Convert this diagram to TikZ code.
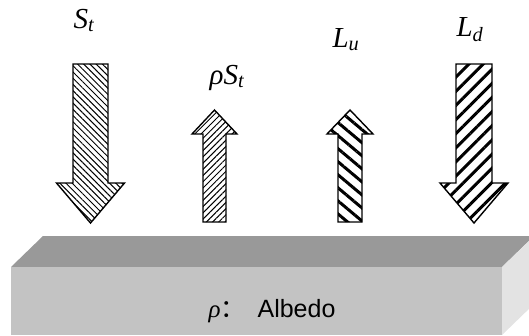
\documentclass[tikz,border=0pt]{standalone}
\usepackage{fontspec}
\setmainfont{Liberation Serif}
\newfontfamily\albedofont{Liberation Sans}
\newfontfamily\cjkfont{Noto Sans CJK SC}
\usetikzlibrary{patterns.meta}
\definecolor{slabtop}{HTML}{999999}
\definecolor{slabfront}{HTML}{C3C3C3}
\definecolor{slabside}{HTML}{E3E3E3}
\tikzset{
  fluxarrow/.style={draw=black, line width=1.4pt, line join=miter},
  finehatch/.style={pattern={Lines[angle=#1, distance=4.4pt, line width=1pt]}},
  coarsehatch/.style={pattern={Lines[angle=#1, distance=10pt, line width=3pt]}},
  fluxlabel/.style={font=\itshape\fontsize{29}{34}\selectfont, inner sep=0pt, anchor=base},
  slabtext/.style={font=\albedofont\fontsize{25}{29}\selectfont, inner sep=0pt, anchor=base},
}
% #1 name, #2 centre x, #3 tail y, #4 head base y, #5 tip y, #6 half shaft, #7 half head, #8 pattern
\newcommand{\fluxshape}[8]{%
  \draw[fluxarrow, #8] (#2-#6,#3) -- (#2+#6,#3) -- (#2+#6,#4) -- (#2+#7,#4)
    -- (#2,#5) -- (#2-#7,#4) -- (#2-#6,#4) -- cycle;
  \coordinate (#1) at (#2,#3);}

\begin{document}
\begin{tikzpicture}[x=1pt, y=-1pt]
  \useasboundingbox (0,0) rectangle (529,335);
  \clip (0,0) rectangle (529,335);

  %% ---- surface slab ----
  \fill[slabtop]   (11,267) -- (43,236) -- (534,236) -- (502,267) -- cycle;
  \fill[slabside]  (502,267) -- (534,236) -- (534,304) -- (502,335) -- cycle;
  \fill[slabfront] (11,267) rectangle (502,335);
  \node[slabtext] (albedo) at (272,317)
    {{\rmfamily\itshape ρ}{\cjkfont ：}\hspace{12pt}Albedo};

  %% ---- fluxes ----
  \fluxshape{st}{90.5}{64}{183}{223}{17.5}{34}{finehatch=-45}
  \fluxshape{rst}{214.5}{222}{134}{110}{11.5}{22.5}{finehatch=45}
  \fluxshape{lu}{350}{222}{134}{110}{12}{23}{coarsehatch=-40}
  \fluxshape{ld}{474}{64}{183}{223}{18}{34}{coarsehatch=45}

  %% ---- labels ----
  \node[fluxlabel] (lblst)  at (84,28)  {S\textsubscript{t}};
  \node[fluxlabel] (lblrst) at (227,84) {ρS\textsubscript{t}};
  \node[fluxlabel] (lbllu)  at (346,47) {L\textsubscript{u}};
  \node[fluxlabel] (lblld)  at (470,36) {L\textsubscript{d}};
\end{tikzpicture}
\end{document}
